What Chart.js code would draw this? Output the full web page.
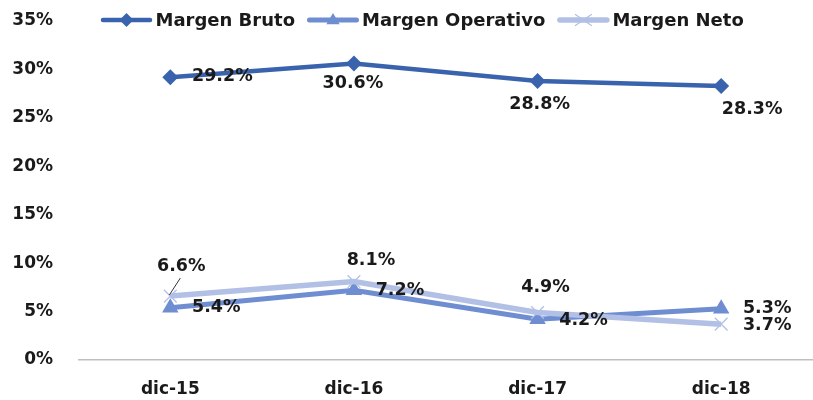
<!DOCTYPE html>
<html><head><meta charset="utf-8">
<script src="https://cdn.jsdelivr.net/npm/chart.js@4"></script>
<style>html,body{margin:0;padding:0;background:#fff}#wrap{width:813px;height:400px}</style>
</head><body><div id="wrap"><canvas id="c" width="813" height="400"></canvas></div>
<script>
const categories = ['dic-15', 'dic-16', 'dic-17', 'dic-18'];
const margenBruto = [29.2, 30.6, 28.8, 28.3];
const margenOperativo = [5.4, 7.2, 4.2, 5.3];
const margenNeto = [6.6, 8.1, 4.9, 3.7];
const yTicks = [0, 5, 10, 15, 20, 25, 30, 35];
const seriesNames = ['Margen Bruto', 'Margen Operativo', 'Margen Neto'];

// style: data label offsets (px) relative to each point
const labelOffsets = [
  [[52, -1], [-1, 20], [2, 23], [31, 24]],
  [[46, 0], [46, 0], [46, 1.5], [46, 0]],
  [[11, -30], [17, -21], [8, -25], [46, 1]]
];
const leaderLines = [[2, 0]]; // dataset, index
const colors = ['#3A63AE', '#6F8DD1', '#B2C0E5'];
const FONT = '"DejaVu Sans", sans-serif';

const fmt = v => v.toFixed(1) + '%';

function drawMarker(ctx, style, x, y, r, color, lw) {
  ctx.save();
  ctx.fillStyle = color; ctx.strokeStyle = color;
  ctx.beginPath();
  if (style === 'rectRot') {
    ctx.moveTo(x, y - r); ctx.lineTo(x + r, y); ctx.lineTo(x, y + r); ctx.lineTo(x - r, y); ctx.closePath(); ctx.fill();
  } else if (style === 'triangle') {
    ctx.moveTo(x, y - r); ctx.lineTo(x + r * 0.95, y + r * 0.6); ctx.lineTo(x - r * 0.95, y + r * 0.6); ctx.closePath(); ctx.fill();
  } else if (style === 'crossRot') {
    ctx.lineWidth = lw || 1.2;
    ctx.moveTo(x - r, y - r * 0.7); ctx.lineTo(x + r, y + r * 0.7);
    ctx.moveTo(x + r, y - r * 0.7); ctx.lineTo(x - r, y + r * 0.7);
    ctx.stroke();
  }
  ctx.restore();
}

const customPlugin = {
  id: 'custom',
  afterDatasetsDraw(chart) {
    const ctx = chart.ctx;
    ctx.save();
    ctx.font = 'bold 17.5px ' + FONT;
    ctx.fillStyle = '#1A1A1A';
    ctx.textAlign = 'center';
    ctx.textBaseline = 'middle';
    chart.data.datasets.forEach((ds, di) => {
      const meta = chart.getDatasetMeta(di);
      meta.data.forEach((pt, i) => {
        const off = labelOffsets[di][i];
        const lx = pt.x + off[0], ly = pt.y + off[1];
        if (leaderLines.some(l => l[0] === di && l[1] === i)) {
          ctx.save();
          ctx.strokeStyle = '#333'; ctx.lineWidth = 1;
          ctx.beginPath(); ctx.moveTo(pt.x - 1, pt.y - 1); ctx.lineTo(lx - 1, ly + 12); ctx.stroke();
          ctx.restore();
        }
        ctx.fillText(fmt(ds.data[i]), lx, ly);
      });
    });
    ctx.restore();
  },
  afterDraw(chart) {
    const ctx = chart.ctx;
    ctx.save();
    ctx.font = 'bold 18px ' + FONT;
    ctx.textBaseline = 'middle';
    ctx.textAlign = 'left';
    let x = 101;
    const y = 20;
    chart.data.datasets.forEach((ds, di) => {
      ctx.strokeStyle = ds.borderColor;
      ctx.lineWidth = ds.borderWidth;
      ctx.lineCap = 'round';
      ctx.beginPath(); ctx.moveTo(x + 2, y); ctx.lineTo(x + 49, y); ctx.stroke();
      drawMarker(ctx, ds.pointStyle, x + 25.5, y, di === 2 ? 8 : 7, ds.pointBackgroundColor, 1.2);
      x += 54.5;
      ctx.fillStyle = '#1A1A1A';
      ctx.fillText(ds.label, x, y + 1);
      x += ctx.measureText(ds.label).width + 12.5;
    });
    ctx.restore();
  }
};

new Chart(document.getElementById('c'), {
  type: 'line',
  data: {
    labels: categories,
    datasets: [
      { label: seriesNames[0], data: margenBruto, borderColor: colors[0], backgroundColor: colors[0],
        pointBackgroundColor: colors[0], pointBorderColor: colors[0], borderWidth: 4.5,
        pointStyle: 'rectRot', pointRadius: 8, pointBorderWidth: 0, order: 3 },
      { label: seriesNames[1], data: margenOperativo, borderColor: colors[1], backgroundColor: colors[1],
        pointBackgroundColor: colors[1], pointBorderColor: colors[1], borderWidth: 5,
        pointStyle: 'triangle', pointRadius: 9.5, pointBorderWidth: 0, order: 2 },
      { label: seriesNames[2], data: margenNeto, borderColor: colors[2], backgroundColor: colors[2],
        pointBackgroundColor: colors[2], pointBorderColor: colors[2], borderWidth: 5.5,
        pointStyle: 'crossRot', pointRadius: 9, pointBorderWidth: 1.3, order: 1 }
    ]
  },
  options: {
    responsive: false,
    animation: false,
    devicePixelRatio: 1,
    layout: { autoPadding: false, padding: { top: 21, right: 0, bottom: 0, left: 0 } },
    plugins: { legend: { display: false }, tooltip: { enabled: false } },
    elements: { line: { tension: 0 } },
    scales: {
      x: {
        offset: true,
        grid: { display: false, drawTicks: false, offset: true },
        border: { display: true, color: '#BFBFBF', width: 1.5 },
        ticks: { padding: 19, color: '#1A1A1A', font: { family: FONT, size: 17, weight: 'bold' } },
        afterFit(s) { s.height = 40; s.paddingLeft = 0; s.paddingRight = 0; }
      },
      y: {
        min: 0, max: 35,
        grid: { display: false, drawTicks: false },
        border: { display: false },
        afterBuildTicks(s) { s.ticks = yTicks.map(v => ({ value: v })); },
        ticks: { padding: 25.5, color: '#1A1A1A', font: { family: FONT, size: 17, weight: 'bold' },
                 callback: v => v + '%' },
        afterFit(s) { s.width = 78.5; s.paddingTop = 0; s.paddingBottom = 0; }
      }
    }
  },
  plugins: [customPlugin]
});
</script>
</body></html>
